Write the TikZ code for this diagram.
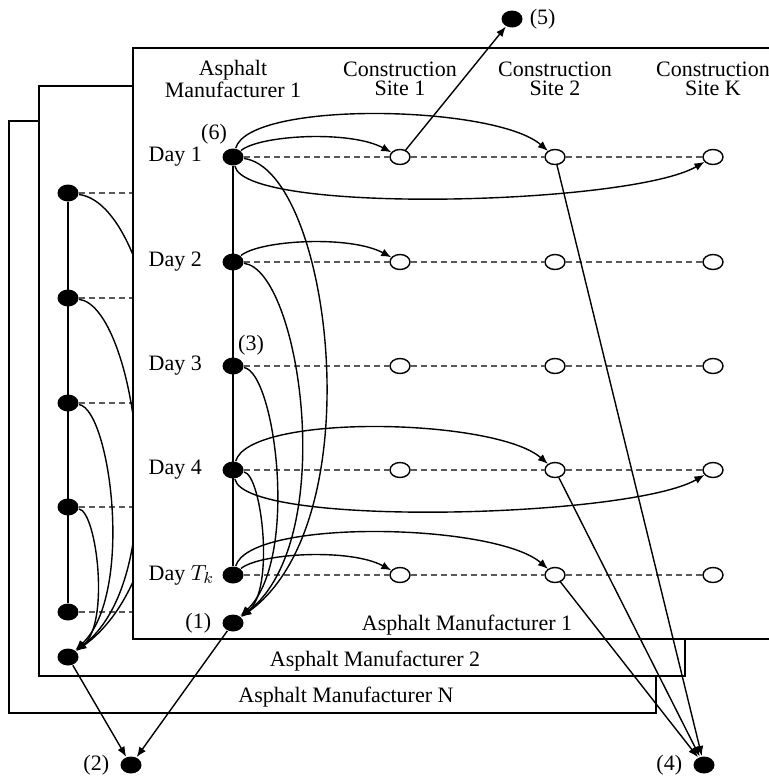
\documentclass[tikz,border=0pt]{standalone}
\usepackage{fontspec}
\setmainfont{Liberation Serif}
\usepackage{tikz}
\usetikzlibrary{arrows.meta}
\usetikzlibrary{shapes.geometric}

\begin{document}
\begin{tikzpicture}[
      >={Latex[length=5pt, width=4pt]},
      x=0.5pt, y=-0.5pt,
      line width=0.7pt,
      lbl/.style={font=\fontsize{11}{9.5}\selectfont, inner sep=1pt},
      piena/.style={ellipse, fill=black, minimum width=10.5pt, minimum height=8.5pt, inner sep=0pt},
      vuota/.style={ellipse, draw, fill=white, minimum width=10pt, minimum height=7.5pt, inner sep=0pt},
      tratt/.style={dash pattern=on 3pt off 2pt, black!65}
    ]
    \useasboundingbox (0,0) rectangle (769,776);

    % Cornici dei produttori N e 2
    \filldraw[fill=white] (9,121) rectangle (656,713);
    \node[lbl] (tN) at (346,697) {Asphalt Manufacturer N};
    \filldraw[fill=white] (39,86) rectangle (685,676);
    \node[lbl] (t2) at (375,661) {Asphalt Manufacturer 2};

    % Colonna del produttore 2 (in parte coperta)
    \foreach \y [count=\i] in {193,298,403,507,612}
      \node[piena] (n\i) at (68,\y) {};
    \node[piena] (n6) at (68,657) {};
    \draw (n1) -- (n5);
    \foreach \i in {1,...,5} \draw[tratt] (n\i) -- ++(90,0);
    \foreach \i/\ax/\ay/\bx/\by in {1/97/13/142/-103, 2/67/8/107/-83, 3/42/6/67/-63, 4/29/5/42/-33}
      \draw[->] (n\i) .. controls +(\ax,\ay) and +(\bx,\by) .. (n6);

    % Cornice del produttore 1
    \fill[white] (133,48) rectangle (780,639);
    \draw (780,48) -- (133,48) -- (133,639) -- (780,639);
    \node[lbl] (t1) at (467,625) {Asphalt Manufacturer 1};

    % Intestazioni
    \node[lbl, align=center] (h0) at (233,79) {Asphalt\\Manufacturer 1};
    \node[lbl, align=center] (h1) at (400,79) {Construction\\Site 1};
    \node[lbl, align=center] (h2) at (555,79) {Construction\\Site 2};
    \node[lbl, align=center] (hK) at (713,79) {Construction\\Site K};

    % Giorni e cantieri
    \foreach \y/\giorno [count=\i] in {157/1, 262/2, 366/3, 470/4, 575/{$T_k$}} {
      \node[lbl, anchor=west] (g\i) at (146,\y) {Day \giorno};
      \node[piena] (m\i) at (233,\y) {};
      \node[vuota] (a\i) at (400,\y) {};
      \node[vuota] (b\i) at (555,\y) {};
      \node[vuota] (c\i) at (713,\y) {};
      \draw[tratt] (m\i) -- (a\i) -- (b\i) -- (c\i);
    }
    \draw (m1) -- (m5);
    \node[lbl] (l6) at (214,134) {(6)};
    \node[lbl] (l3) at (251,345) {(3)};

    % Nodi esterni
    \node[piena, label={[lbl, label distance=4pt]left:(1)}] (e1) at (233,623) {};
    \node[piena, label={[lbl, label distance=4pt]left:(2)}] (e2) at (131,765) {};
    \node[piena, label={[lbl, label distance=4pt]left:(4)}] (e4) at (704,765) {};
    \node[piena, label={[lbl, label distance=2pt]right:(5)}] (e5) at (512,19) {};

    % Consegne ai cantieri
    \foreach \i in {1,2,5}
      \draw[->] (m\i) .. controls +(27,-22) and +(-50,-27) .. (a\i);
    \foreach \i in {1,4,5}
      \draw[->] (m\i) .. controls +(17,-57) and +(-60,-52) .. (b\i);
    \foreach \i in {1,4}
      \draw[->] (m\i) .. controls +(12,58) and +(-83,48) .. (c\i);

    % Verso il nodo (1)
    \foreach \i/\ax/\ay/\bx/\by in {1/97/13/142/-103, 2/67/8/107/-83, 3/42/6/67/-63, 4/29/5/42/-33}
      \draw[->] (m\i) .. controls +(\ax,\ay) and +(\bx,\by) .. (e1);

    % Archi uscenti
    \draw[->] (a1) -- (e5);
    \foreach \i in {1,4,5} \draw[->] (b\i) -- (e4);
    \draw[->] (n6) -- (e2);
    \draw[->] (e1) -- (e2);
  \end{tikzpicture}
\end{document}
